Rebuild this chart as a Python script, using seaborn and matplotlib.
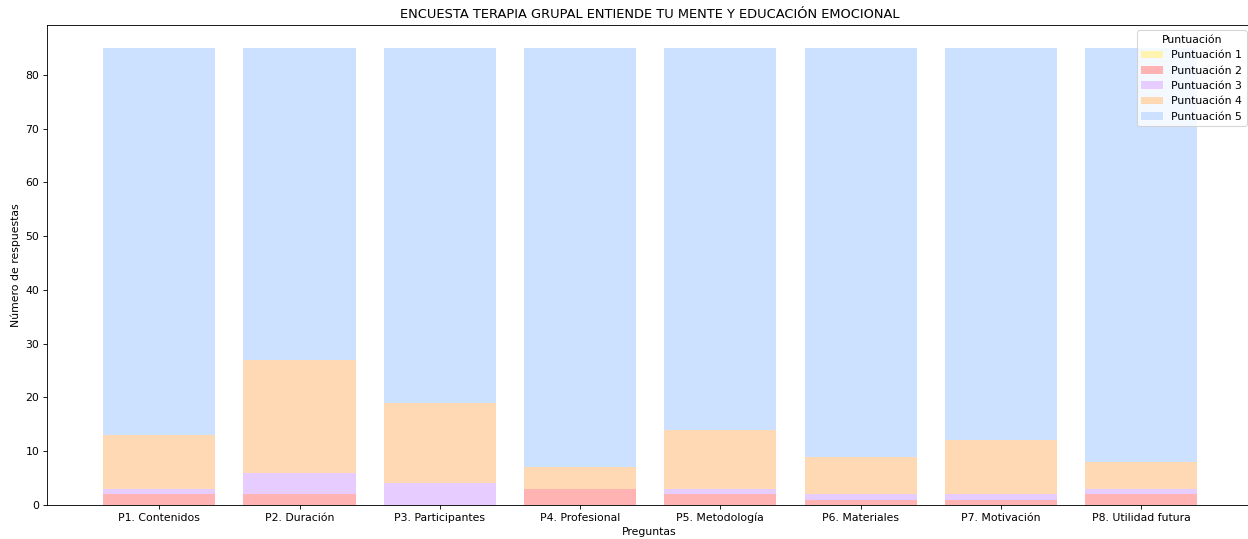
import numpy as np
import pandas as pd
import matplotlib
matplotlib.use("Agg")
import matplotlib.pyplot as plt
import seaborn as sns

# === Data ===
preguntas = ["P1. Contenidos", "P2. Duración", "P3. Participantes", "P4. Profesional",
             "P5. Metodología", "P6. Materiales", "P7. Motivación", "P8. Utilidad futura"]
punt1 = [0, 0, 0, 0, 0, 0, 0, 0]
punt2 = [2, 2, 0, 3, 2, 1, 1, 2]
punt3 = [1, 4, 4, 0, 1, 1, 1, 1]
punt4 = [10, 21, 15, 4, 11, 7, 10, 5]
punt5 = [72, 58, 66, 78, 71, 76, 73, 77]

series = [punt1, punt2, punt3, punt4, punt5]
labels = ["Puntuación 1", "Puntuación 2", "Puntuación 3", "Puntuación 4", "Puntuación 5"]
colors = ["#FFF3B0", "#FFB3B3", "#E6CCFF", "#FFD9B3", "#CCE0FF"]

# === Plot ===
DPI = 78
fig = plt.figure(figsize=(1248 / DPI, 539 / DPI), dpi=DPI)
ax = fig.add_axes([47 / 1248, 34 / 539, 1205 / 1248, 480 / 539])

bottom = np.zeros(len(preguntas))
for vals, lab, col in zip(series, labels, colors):
    df = pd.DataFrame({"pregunta": preguntas, "n": vals})
    sns.barplot(data=df, x="pregunta", y="n", color=col, saturation=1,
                bottom=bottom, label=lab, width=0.8, ax=ax, linewidth=0)
    bottom = bottom + np.array(vals)

ax.set_xlim(-0.8, 7.79)
ax.set_ylim(0, 85 * 1.05)
ax.spines["right"].set_visible(False)  # falls outside the frame in the original
ax.set_title("ENCUESTA TERAPIA GRUPAL ENTIENDE TU MENTE Y EDUCACIÓN EMOCIONAL")
ax.set_xlabel("Preguntas")
ax.set_ylabel("Número de respuestas")
ax.legend(title="Puntuación", loc="upper right")

fig.savefig("out.png", dpi=DPI)
